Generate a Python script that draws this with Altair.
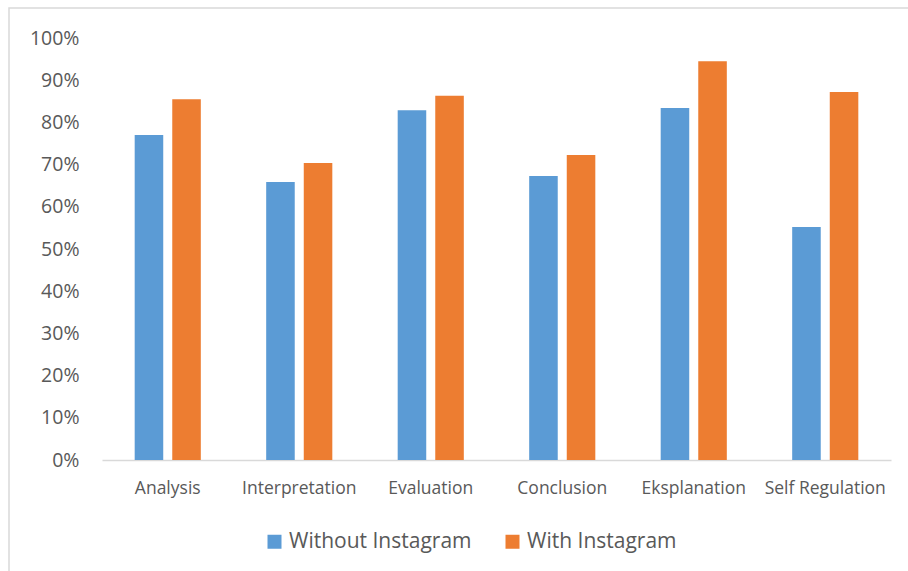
import altair as alt
import pandas as pd

categories = ["Analysis", "Interpretation", "Evaluation", "Conclusion", "Eksplanation", "Self Regulation"]
series = ["Without Instagram", "With Instagram"]
without_vals = [0.770, 0.659, 0.829, 0.673, 0.834, 0.552]
with_vals = [0.855, 0.704, 0.863, 0.723, 0.945, 0.872]
colors = ["#5B9BD5", "#ED7D31"]

rows = []
for c, a, b in zip(categories, without_vals, with_vals):
    rows.append({"category": c, "series": series[0], "value": a})
    rows.append({"category": c, "series": series[1], "value": b})
df = pd.DataFrame(rows)

FONT = "Open Sans"
LABEL = "#595959"

bars = alt.Chart(df).mark_bar().encode(
    x=alt.X("category:N", sort=categories,
            scale=alt.Scale(paddingInner=0, paddingOuter=0),
            axis=alt.Axis(title=None, labelAngle=0, ticks=False, domainColor="#d9d9d9",
                          domainWidth=1.5, labelFont=FONT, labelFontSize=17.5,
                          labelColor=LABEL, labelPadding=19, grid=False)),
    xOffset=alt.XOffset("series:N", sort=series,
                        scale=alt.Scale(paddingInner=0.24, paddingOuter=0.87)),
    y=alt.Y("value:Q", scale=alt.Scale(domain=[0, 1], nice=False),
            axis=alt.Axis(title=None, format=".0%", values=[i / 10 for i in range(11)],
                          domain=False, ticks=False, grid=False, labelFont=FONT,
                          labelFontSize=19.5, labelColor=LABEL, labelPadding=23)),
    color=alt.Color("series:N", sort=series,
                    scale=alt.Scale(domain=series, range=colors),
                    legend=alt.Legend(title=None, orient="none", direction="horizontal",
                                      legendX=162, legendY=493, symbolType="square",
                                      symbolSize=196, symbolStrokeWidth=0,
                                      labelFont=FONT, labelFontSize=21,
                                      labelColor=LABEL, labelOffset=4,
                                      columnPadding=30, labelLimit=400)),
)

frame = alt.Chart(pd.DataFrame({"a": [0]})).mark_rect(
    fill=None, stroke="#d9d9d9", strokeWidth=1.5
).encode(
    x=alt.value(-93), x2=alt.value(900), y=alt.value(-30), y2=alt.value(600)
)

chart = alt.layer(frame, bars).properties(
    width=789, height=422,
    background="white",
    autosize=alt.AutoSizeParams(type="none"),
    padding={"left": 102, "top": 38, "right": 17, "bottom": 111},
).configure_view(stroke=None)

chart.save("out.html", embed_options={"renderer": "svg", "actions": False})
